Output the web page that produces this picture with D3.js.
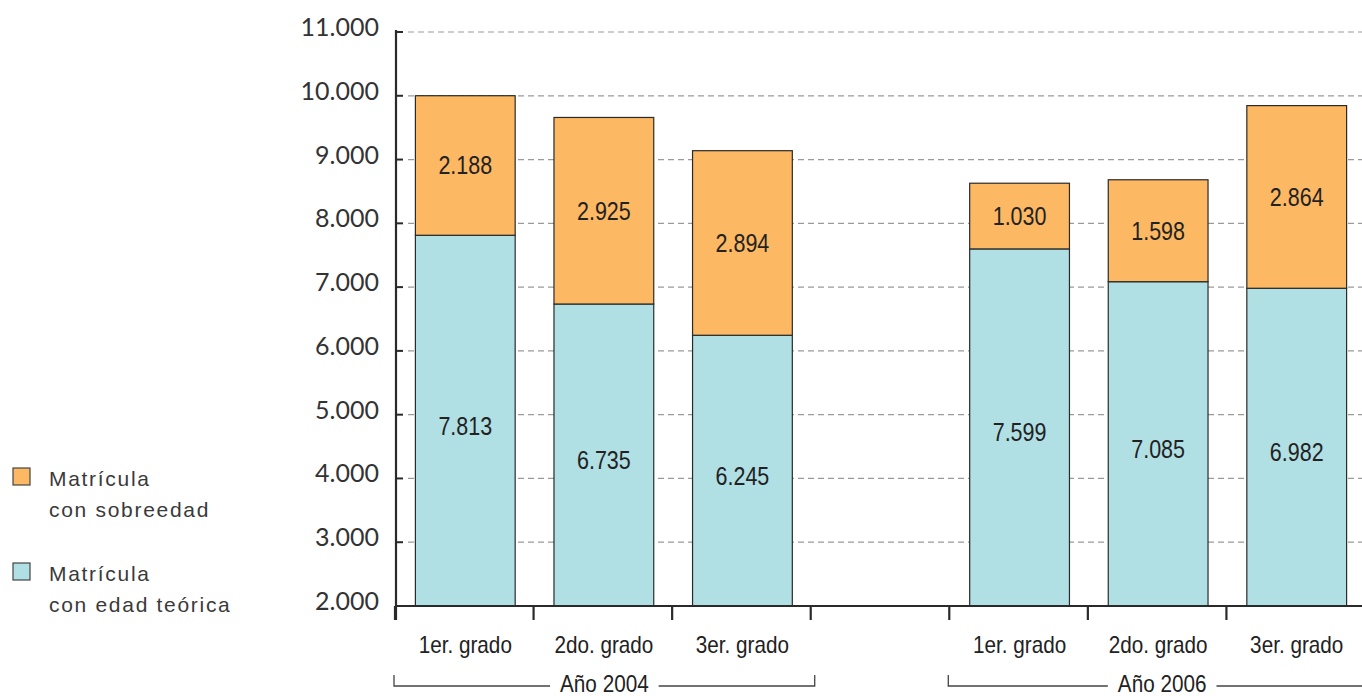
<!DOCTYPE html>
<html>
<head>
<meta charset="utf-8">
<script src="https://cdn.jsdelivr.net/npm/d3@7"></script>
<style>
  html, body { margin: 0; padding: 0; background: #fff; }
  svg { display: block; }
</style>
</head>
<body>
<svg id="chart" width="1362" height="696"></svg>
<script>
// Enrollment by grade, two school years, stacked: theoretical age + over-age
const years = ["Año 2004", "Año 2006"];
const grades = ["1er. grado", "2do. grado", "3er. grado"];
const edadTeorica2004 = [7813, 6735, 6245];
const sobreedad2004 = [2188, 2925, 2894];
const edadTeorica2006 = [7599, 7085, 6982];
const sobreedad2006 = [1030, 1598, 2864];
const yTicks = [2000, 3000, 4000, 5000, 6000, 7000, 8000, 9000, 10000, 11000];
const legendLabels = [["Matrícula", "con sobreedad"], ["Matrícula", "con edad teórica"]];

const colors = { sobreedad: "#fcb862", teorica: "#b0dfe4" };
const ink = "#2a2a2a";
const narrow = "'Liberation Sans Narrow', 'Arial Narrow', sans-serif";

// one slot per bar plus an empty slot separating the two years
const rows = [];
edadTeorica2004.forEach((v, i) => rows.push({ key: "2004-" + i, grade: grades[i], teorica: v, sobreedad: sobreedad2004[i] }));
rows.push({ key: "gap", grade: "", teorica: null, sobreedad: null });
edadTeorica2006.forEach((v, i) => rows.push({ key: "2006-" + i, grade: grades[i], teorica: v, sobreedad: sobreedad2006[i] }));

const svg = d3.select("#chart");
const plotLeft = 396, plotRight = 1366, plotTop = 32, plotBottom = 606;

const x = d3.scaleBand().domain(rows.map(d => d.key)).range([plotLeft, plotRight])
  .paddingInner(0.28).paddingOuter(0.14);
const y = d3.scaleLinear().domain([2000, 11000]).range([plotBottom, plotTop]);
const fmt = d3.formatLocale({ decimal: ",", thousands: ".", grouping: [3], currency: ["$", ""] }).format(",");
const step = x.step();
const boundary = i => plotLeft + i * step;

// dashed gridlines
svg.append("g").selectAll("line").data(yTicks.filter(t => t > 2000)).join("line")
  .attr("x1", plotLeft + 12).attr("x2", 1362)
  .attr("y1", d => y(d)).attr("y2", d => y(d))
  .attr("stroke", "#9a9a9a").attr("stroke-width", 1.2).attr("stroke-dasharray", "6,4");

// stacked bars
const stack = d3.stack().keys(["teorica", "sobreedad"]);
const bars = rows.filter(d => d.teorica !== null);
const series = stack(bars);
const base = y.domain()[0];

svg.append("g").selectAll("g").data(series).join("g")
  .attr("fill", s => colors[s.key])
  .selectAll("rect").data(s => s).join("rect")
  .attr("x", d => x(d.data.key))
  .attr("width", x.bandwidth())
  .attr("y", d => y(d[1]))
  .attr("height", d => y(Math.max(d[0], base)) - y(d[1]))
  .attr("stroke", ink).attr("stroke-width", 1.2);

// value labels centred in each segment
series.forEach(s => {
  svg.append("g").selectAll("text").data(s).join("text")
    .attr("transform", d => {
      const lo = Math.max(d[0], base);
      const cy = (y(lo) + y(d[1])) / 2 + (s.key === "teorica" ? 5 : 0);
      return `translate(${x(d.data.key) + x.bandwidth() / 2},${cy + 9}) scale(0.86,1)`;
    })
    .attr("text-anchor", "middle")
    .attr("font-family", narrow).attr("font-size", 25).attr("fill", "#222")
    .text(d => fmt(d.data[s.key]));
});

// y axis
svg.append("line").attr("x1", plotLeft).attr("x2", plotLeft).attr("y1", plotTop - 2).attr("y2", plotBottom + 14)
  .attr("stroke", ink).attr("stroke-width", 2.2);
svg.append("g").selectAll("line").data(yTicks).join("line")
  .attr("x1", plotLeft).attr("x2", plotLeft + 7)
  .attr("y1", d => y(d)).attr("y2", d => y(d))
  .attr("stroke", ink).attr("stroke-width", 2);
svg.append("g").selectAll("text").data(yTicks).join("text")
  .attr("x", 379).attr("y", d => y(d) + 4)
  .attr("text-anchor", "end")
  .attr("font-family", "Lato, sans-serif").attr("font-size", 25).attr("fill", "#333")
  .text(d => fmt(d));

// x axis
svg.append("line").attr("x1", plotLeft).attr("x2", 1362).attr("y1", plotBottom).attr("y2", plotBottom)
  .attr("stroke", ink).attr("stroke-width", 2.2);
svg.append("g").selectAll("line").data(d3.range(rows.length + 1)).join("line")
  .attr("x1", i => boundary(i) - 1).attr("x2", i => boundary(i) - 1)
  .attr("y1", plotBottom).attr("y2", plotBottom + 14)
  .attr("stroke", ink).attr("stroke-width", 2.2);

svg.append("g").selectAll("text").data(bars).join("text")
  .attr("transform", d => `translate(${x(d.key) + x.bandwidth() / 2},653) scale(0.9,1)`)
  .attr("text-anchor", "middle")
  .attr("font-family", narrow).attr("font-size", 23).attr("fill", "#222")
  .text(d => d.grade);

// year brackets
const groups = [
  { label: years[0], from: boundary(0) - 2, to: boundary(3) + 3 },
  { label: years[1], from: boundary(4) - 2, to: boundary(7) + 10 }
];
groups.forEach(g => {
  const cx = (g.from + g.to) / 2;
  const t = svg.append("text").attr("transform", `translate(${cx},692) scale(0.9,1)`)
    .attr("text-anchor", "middle")
    .attr("font-family", narrow).attr("font-size", 23).attr("fill", "#222")
    .text(g.label);
  const w = t.node().getBBox().width * 0.9;
  const gl = svg.append("g").attr("stroke", "#444").attr("stroke-width", 1.3).attr("fill", "none");
  gl.append("path").attr("d", `M${g.from},675V686H${cx - w / 2 - 10}`);
  gl.append("path").attr("d", `M${cx + w / 2 + 10},686H${g.to}V675`);
});

// legend
const legend = svg.append("g");
[["sobreedad", 468], ["teorica", 563]].forEach(([k, ly], i) => {
  legend.append("rect").attr("x", 13).attr("y", ly).attr("width", 17).attr("height", 17)
    .attr("fill", colors[k]).attr("stroke", "#444").attr("stroke-width", 1.2);
  legendLabels[i].forEach((line, j) => {
    legend.append("text").attr("x", 49).attr("y", ly + 18 + j * 31)
      .attr("font-family", narrow).attr("font-size", 21).attr("letter-spacing", 1.7)
      .attr("fill", "#3a3a3a").text(line);
  });
});
</script>
</body>
</html>
